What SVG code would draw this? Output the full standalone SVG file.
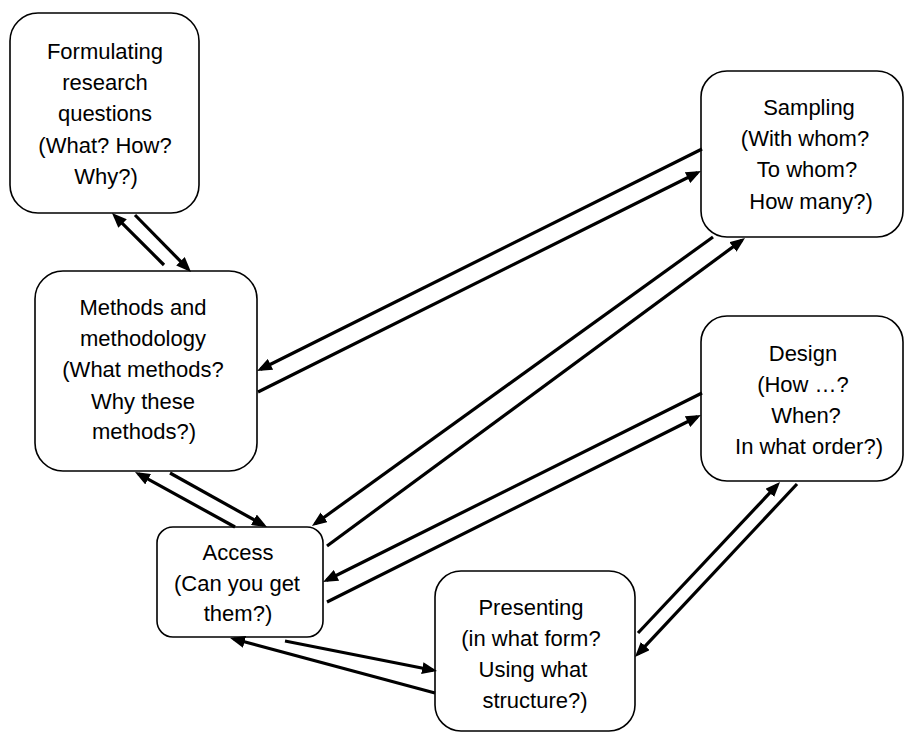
<svg xmlns="http://www.w3.org/2000/svg" width="904" height="733" viewBox="0 0 904 733">
<style>
.box{fill:#fff;stroke:#000;stroke-width:1.6}
text{font-family:"Liberation Sans",Arial,sans-serif;font-size:22px;fill:#000;text-anchor:middle}
.c line{stroke:#000;stroke-width:3.2;marker-end:url(#ah)}
</style>
<defs>
<marker id="ah" viewBox="0 0 15 12" refX="11" refY="6" markerWidth="15" markerHeight="12" markerUnits="userSpaceOnUse" orient="auto">
<path d="M0,0 L15,6 L0,12 z" fill="#000"/>
</marker>
</defs>
<rect width="904" height="733" fill="#fff"/>
<g id="formulating">
<rect class="box" x="10" y="13" width="189" height="200" rx="28"/>
<text x="105" y="59">Formulating</text>
<text x="105" y="90">research</text>
<text x="105" y="121">questions</text>
<text x="105" y="153">(What? How?</text>
<text x="106" y="184">Why?)</text>
</g>
<g id="sampling">
<rect class="box" x="701" y="71" width="202" height="166" rx="26"/>
<text x="809" y="115">Sampling</text>
<text x="805" y="146">(With whom?</text>
<text x="807" y="177">To whom?</text>
<text x="811" y="209">How many?)</text>
</g>
<g id="methods">
<rect class="box" x="35" y="271" width="222" height="200" rx="28"/>
<text x="143" y="315">Methods and</text>
<text x="143" y="346">methodology</text>
<text x="143" y="377">(What methods?</text>
<text x="143" y="409">Why these</text>
<text x="144" y="439">methods?)</text>
</g>
<g id="design">
<rect class="box" x="701" y="316" width="202" height="165" rx="26"/>
<text x="803" y="361">Design</text>
<text x="803" y="392">(How …?</text>
<text x="806" y="423">When?</text>
<text x="809" y="454">In what order?)</text>
</g>
<g id="access">
<rect class="box" x="157" y="527" width="166" height="110" rx="16"/>
<text x="238" y="560">Access</text>
<text x="237" y="591">(Can you get</text>
<text x="238" y="621">them?)</text>
</g>
<g id="presenting">
<rect class="box" x="435" y="571" width="200" height="160" rx="26"/>
<text x="531" y="615">Presenting</text>
<text x="531" y="646">(in what form?</text>
<text x="533" y="677">Using what</text>
<text x="535" y="708">structure?)</text>
</g>
<g id="connectors" class="c">
<line x1="164" y1="265" x2="114.8" y2="215.8"/>
<line x1="135" y1="215" x2="188.2" y2="269.1"/>
<line x1="702" y1="149" x2="260.6" y2="369.2"/>
<line x1="258" y1="392" x2="697.4" y2="172.8"/>
<line x1="713" y1="237" x2="315.2" y2="523.7"/>
<line x1="327" y1="546" x2="741.8" y2="240.4"/>
<line x1="702" y1="393" x2="326.6" y2="580.2"/>
<line x1="327" y1="602" x2="697.4" y2="416.8"/>
<line x1="235" y1="527" x2="138.5" y2="473.9"/>
<line x1="170" y1="473" x2="263.5" y2="525.1"/>
<line x1="285" y1="641" x2="433.1" y2="670.2"/>
<line x1="435" y1="693" x2="233.9" y2="639"/>
<line x1="638" y1="633" x2="777.3" y2="484.9"/>
<line x1="797" y1="484" x2="637.7" y2="654.1"/>
</g>
</svg>
